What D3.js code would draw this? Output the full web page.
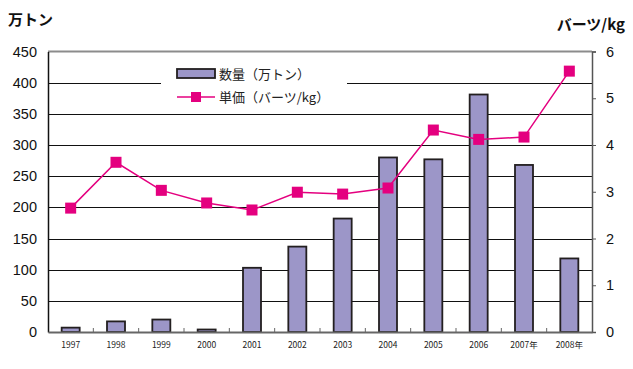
<!DOCTYPE html>
<html>
<head>
<meta charset="utf-8">
<script src="https://cdn.jsdelivr.net/npm/d3@7"></script>
<style>
  body { margin: 0; background: #fff; }
  svg { display: block; font-family: "Liberation Sans", Arial, sans-serif; }
  .jp { font-family: "Noto Sans CJK JP", sans-serif; }
</style>
</head>
<body>
<div id="chart"></div>
<script>
// data
const years = ["1997", "1998", "1999", "2000", "2001", "2002", "2003", "2004", "2005", "2006", "2007年", "2008年"];
const volume = [7, 17, 20, 4, 103, 137, 182, 280, 277, 381, 268, 118]; // 万トン
const price = [2.65, 3.63, 3.03, 2.76, 2.61, 2.99, 2.95, 3.08, 4.32, 4.12, 4.17, 5.58]; // バーツ/kg
const leftTicks = [0, 50, 100, 150, 200, 250, 300, 350, 400, 450];
const rightTicks = [0, 1, 2, 3, 4, 5, 6];

const width = 633, height = 369;
const margin = { top: 51.5, right: 41, bottom: 37, left: 48 };

const svg = d3.select("#chart").append("svg")
  .attr("width", width)
  .attr("height", height);

const x = d3.scaleBand()
  .domain(years)
  .range([margin.left, width - margin.right]);

const yL = d3.scaleLinear()
  .domain([0, 450])
  .range([height - margin.bottom, margin.top]);

const yR = d3.scaleLinear()
  .domain([0, 6])
  .range([height - margin.bottom, margin.top]);

// gridlines
svg.append("g")
  .selectAll("line")
  .data(leftTicks.filter(d => d > 0 && d < 450))
  .join("line")
  .attr("x1", margin.left)
  .attr("x2", width - margin.right)
  .attr("y1", d => Math.round(yL(d)) + 0.5)
  .attr("y2", d => Math.round(yL(d)) + 0.5)
  .attr("stroke", "#111")
  .attr("stroke-width", 1);

// top border
svg.append("line")
  .attr("x1", margin.left).attr("x2", width - margin.right)
  .attr("y1", yL(450)).attr("y2", yL(450))
  .attr("stroke", "#8c8c8c").attr("stroke-width", 2);

// legend box (covers grid)
const lg = svg.append("g");
lg.append("rect")
  .attr("x", 161).attr("y", 60)
  .attr("width", 186).attr("height", 48)
  .attr("fill", "#fff");

// bars
const barW = 18;
svg.append("g")
  .selectAll("rect")
  .data(volume)
  .join("rect")
  .attr("x", (d, i) => x(years[i]) + x.bandwidth() / 2 - barW / 2)
  .attr("y", d => yL(d))
  .attr("width", barW)
  .attr("height", d => yL(0) - yL(d))
  .attr("fill", "#9c96c8")
  .attr("stroke", "#231f20")
  .attr("stroke-width", 1.8);

// left axis
const axL = svg.append("g")
  .attr("transform", `translate(${margin.left},0)`)
  .call(d3.axisLeft(yL).tickValues(leftTicks).tickSize(0).tickPadding(11));
axL.select(".domain").attr("stroke", "#111").attr("stroke-width", 1.5);
axL.selectAll("text").attr("font-size", 14.5).attr("fill", "#111");

// right axis
const axR = svg.append("g")
  .attr("transform", `translate(${width - margin.right},0)`)
  .call(d3.axisRight(yR).tickValues(rightTicks).tickFormat(d3.format("d")).tickSize(4).tickPadding(10));
axR.select(".domain").attr("stroke", "#555").attr("stroke-width", 1.5);
axR.selectAll("line").attr("stroke", "#555");
axR.selectAll("text").attr("font-size", 14.5).attr("fill", "#111");

// bottom axis
const axB = svg.append("g")
  .attr("transform", `translate(0,${height - margin.bottom})`)
  .call(d3.axisBottom(x).tickSize(0).tickPadding(10));
axB.select(".domain").attr("stroke", "#666").attr("stroke-width", 2);
axB.selectAll("text")
  .attr("font-size", 8.5)
  .attr("fill", "#222")
  .attr("class", "jp");
// ticks between categories
svg.append("g")
  .selectAll("line")
  .data(years.slice(1))
  .join("line")
  .attr("x1", d => x(d))
  .attr("x2", d => x(d))
  .attr("y1", yL(0))
  .attr("y2", yL(0) - 4)
  .attr("stroke", "#666");

// price line
const line = d3.line()
  .x((d, i) => x(years[i]) + x.bandwidth() / 2)
  .y(d => yR(d));

svg.append("path")
  .datum(price)
  .attr("d", line)
  .attr("fill", "none")
  .attr("stroke", "#e4007f")
  .attr("stroke-width", 1.5);

svg.append("g")
  .selectAll("rect")
  .data(price)
  .join("rect")
  .attr("x", (d, i) => x(years[i]) + x.bandwidth() / 2 - 5.5)
  .attr("y", d => yR(d) - 5.5)
  .attr("width", 11)
  .attr("height", 11)
  .attr("fill", "#e4007f");

// legend contents
lg.append("rect")
  .attr("x", 177).attr("y", 69)
  .attr("width", 38).attr("height", 9)
  .attr("fill", "#9c96c8")
  .attr("stroke", "#231f20")
  .attr("stroke-width", 1.8);
lg.append("text")
  .attr("class", "jp")
  .attr("x", 219).attr("y", 79)
  .attr("font-size", 13)
  .attr("fill", "#222")
  .text("数量（万トン）");
lg.append("line")
  .attr("x1", 177).attr("x2", 215)
  .attr("y1", 97).attr("y2", 97)
  .attr("stroke", "#e4007f").attr("stroke-width", 1.5);
lg.append("rect")
  .attr("x", 191).attr("y", 92)
  .attr("width", 10).attr("height", 10)
  .attr("fill", "#e4007f");
lg.append("text")
  .attr("class", "jp")
  .attr("x", 219).attr("y", 102)
  .attr("font-size", 13)
  .attr("fill", "#222")
  .text("単価（バーツ/kg）");

// axis titles
svg.append("text")
  .attr("class", "jp")
  .attr("x", 8).attr("y", 25)
  .attr("font-size", 15)
  .attr("font-weight", "bold")
  .attr("fill", "#111")
  .text("万トン");
svg.append("text")
  .attr("class", "jp")
  .attr("x", 625).attr("y", 30)
  .attr("text-anchor", "end")
  .attr("font-size", 15)
  .attr("font-weight", "bold")
  .attr("fill", "#111")
  .text("バーツ/kg");
</script>
</body>
</html>
